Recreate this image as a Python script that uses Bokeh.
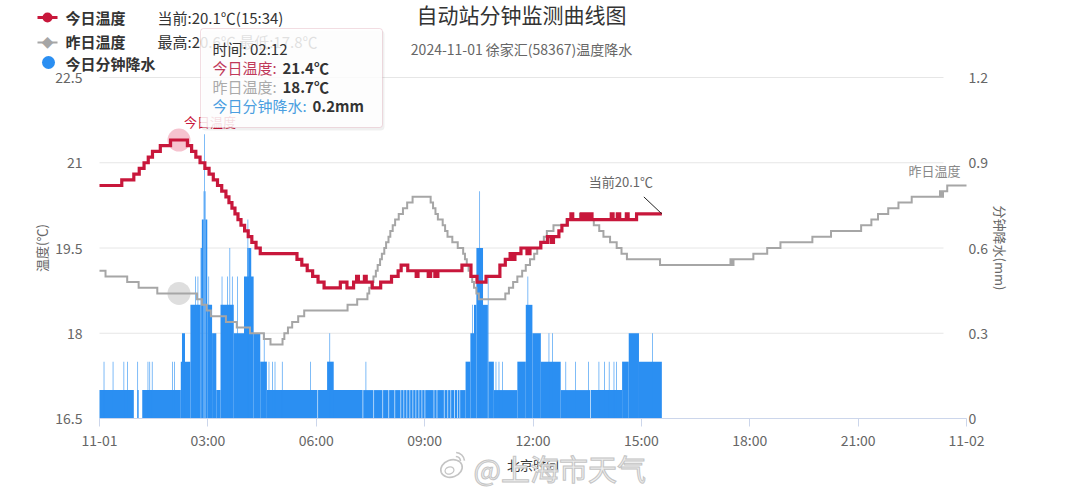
from bokeh.plotting import figure
from bokeh.models import Range1d, LinearAxis, FixedTicker, Label, BoxAnnotation
from bokeh.embed import file_html
from bokeh.resources import INLINE

# ---------------------------------------------------------------- data
# today's temperature (°C): time of each 0.1° step and the new value
today_time = ["00:00", "00:37", "00:57", "01:06", "01:14", "01:21", "01:28", "01:41", "01:58",
              "02:26", "02:33", "02:40", "02:47", "02:55", "03:02", "03:09", "03:16", "03:23",
              "03:30", "03:35", "03:40", "03:45", "03:50", "03:55", "04:01", "04:07", "04:13",
              "04:20", "04:27", "05:28", "05:36", "05:45", "05:54", "06:03", "06:13", "06:40",
              "06:51", "07:02", "07:07", "07:10", "07:20", "07:23", "07:33", "07:47", "08:05",
              "08:16", "08:21", "08:32", "08:46", "08:49", "09:06", "09:10", "09:17", "09:22",
              "10:02", "10:17", "10:27", "10:42", "11:05", "11:14", "11:22", "11:25", "11:30",
              "11:40", "11:50", "11:55", "12:13", "12:24", "12:30", "12:34", "12:43", "12:48",
              "12:57", "13:03", "13:06", "13:20", "13:23", "13:26", "13:30", "13:35", "13:38",
              "14:10", "14:13", "14:20", "14:24", "14:35", "14:38", "14:52", "15:34"]
today_temp = [20.6, 20.7, 20.8, 20.9, 21.0, 21.1, 21.2, 21.3, 21.4,
              21.3, 21.2, 21.1, 21.0, 20.9, 20.8, 20.7, 20.6, 20.5,
              20.4, 20.3, 20.2, 20.1, 20.0, 19.9, 19.8, 19.7, 19.6,
              19.5, 19.4, 19.3, 19.2, 19.1, 19.0, 18.9, 18.8, 18.9,
              18.8, 18.9, 19.0, 18.9, 19.0, 18.9, 18.8, 18.9, 19.0,
              19.1, 19.2, 19.1, 19.0, 19.1, 19.0, 19.1, 19.0, 19.1,
              19.2, 19.0, 18.9, 19.0, 19.2, 19.3, 19.4, 19.3, 19.4,
              19.5, 19.4, 19.5, 19.6, 19.7, 19.6, 19.7, 19.8, 19.9,
              20.0, 20.1, 20.0, 20.1, 20.0, 20.1, 20.0, 20.1, 20.0,
              20.1, 20.0, 20.1, 20.0, 20.1, 20.0, 20.1, 20.1]

# yesterday's temperature (°C)
yest_time = ["00:00", "00:10", "00:46", "01:05", "01:36", "02:42", "02:50", "02:58", "03:05",
             "03:30", "03:48", "04:10", "04:33", "04:44", "05:04", "05:07", "05:13", "05:20",
             "05:30", "05:40", "06:52", "07:08", "07:25", "07:28", "07:32", "07:35", "07:39",
             "07:42", "07:46", "07:49", "07:53", "07:56", "08:00", "08:03", "08:07", "08:11",
             "08:17", "08:24", "08:31", "08:40", "09:10", "09:14", "09:18", "09:22", "09:30",
             "09:34", "09:38", "09:46", "09:55", "10:04", "10:07", "10:10", "10:13", "10:16",
             "10:19", "10:22", "10:26", "10:30", "11:14", "11:20", "11:27", "11:34", "11:42",
             "11:48", "11:55", "12:02", "12:07", "12:12", "12:18", "12:23", "12:34", "12:56",
             "13:18", "13:24", "13:41", "13:50", "13:57", "14:08", "14:19", "14:27", "14:36",
             "15:31", "17:28", "17:30", "17:33", "18:06", "18:29", "18:51", "19:44", "20:15",
             "21:05", "21:22", "21:33", "21:50", "22:07", "22:29", "23:16", "23:19", "23:21",
             "23:28", "24:00"]
yest_temp = [19.1, 19.0, 18.9, 18.8, 18.7, 18.6, 18.5, 18.4, 18.3,
             18.2, 18.1, 18.0, 17.9, 17.8, 17.9, 18.0, 18.1, 18.2,
             18.3, 18.4, 18.5, 18.6, 18.7, 18.8, 18.9, 19.0, 19.1,
             19.2, 19.3, 19.4, 19.5, 19.6, 19.7, 19.8, 19.9, 20.0,
             20.1, 20.2, 20.3, 20.4, 20.3, 20.2, 20.1, 20.0, 19.9,
             19.8, 19.7, 19.6, 19.5, 19.4, 19.3, 19.2, 19.1, 19.0,
             18.9, 18.8, 18.7, 18.6, 18.7, 18.8, 18.9, 19.0, 19.1,
             19.2, 19.3, 19.4, 19.5, 19.6, 19.7, 19.8, 19.9, 20.0,
             20.1, 20.0, 19.9, 19.8, 19.7, 19.6, 19.5, 19.4, 19.3,
             19.2, 19.3, 19.2, 19.3, 19.4, 19.5, 19.6, 19.7, 19.8,
             19.9, 20.0, 20.1, 20.2, 20.3, 20.4, 20.5, 20.4, 20.5,
             20.6, 20.6]

# minute rainfall (mm): runs of equal value, [from, to) in minutes after 00:00
rain_from = [0, 63, 71, 135, 137, 151, 159, 163, 168, 170, 173, 174, 175, 176, 179, 181, 187, 194,
             201, 203, 212, 216, 220, 223, 229, 240, 245, 246, 247, 256, 267, 273, 278, 363, 378,
             382, 438, 442, 456, 471, 481, 491, 501, 506, 511, 516, 521, 526, 531, 536, 541, 556,
             561, 573, 579, 584, 590, 595, 599, 608, 616, 619, 622, 626, 631, 637, 645, 646, 655,
             694, 708, 711, 719, 733, 746, 752, 766, 816, 868, 879, 896, 918,
             7, 22, 40, 46, 63, 80, 83, 87, 121, 124, 281, 287, 291, 303, 350, 658, 663, 669,
             774, 790, 812, 829, 838, 846, 854, 858]
rain_to = [57, 65, 135, 151, 142, 168, 160, 164, 170, 173, 174, 175, 176, 179, 187, 182, 194, 201,
           223, 204, 213, 217, 221, 240, 230, 256, 246, 247, 252, 267, 278, 274, 362, 437, 389,
           383, 455, 443, 470, 480, 490, 500, 505, 510, 515, 520, 525, 530, 535, 540, 555, 560,
           572, 578, 583, 589, 594, 598, 608, 616, 622, 620, 626, 637, 632, 645, 646, 655, 694,
           708, 719, 712, 733, 766, 747, 753, 815, 868, 879, 896, 934, 919,
           8, 23, 41, 47, 64, 81, 84, 88, 122, 125, 282, 288, 292, 304, 351, 659, 664, 670,
           775, 791, 813, 830, 839, 847, 855, 859]
rain_mm = [0.1, 0.1, 0.1, 0.2, 0.3, 0.4, 0.5, 0.5, 0.6, 0.7, 0.8, 1.0, 0.8, 0.7, 0.4, 0.5, 0.3, 0.1,
           0.4, 0.5, 0.5, 0.6, 0.5, 0.3, 0.5, 0.5, 0.6, 0.7, 0.6, 0.3, 0.2, 0.3, 0.1, 0.1, 0.2,
           0.3, 0.1, 0.2, 0.1, 0.1, 0.1, 0.1, 0.1, 0.1, 0.1, 0.1, 0.1, 0.1, 0.1, 0.1, 0.1, 0.1,
           0.1, 0.1, 0.1, 0.1, 0.1, 0.1, 0.1, 0.2, 0.3, 0.4, 0.4, 0.6, 0.8, 0.4, 0.5, 0.2, 0.1,
           0.2, 0.4, 0.5, 0.3, 0.2, 0.3, 0.3, 0.1, 0.1, 0.2, 0.3, 0.2, 0.3,
           0.2, 0.2, 0.2, 0.2, 0.2, 0.2, 0.2, 0.2, 0.2, 0.2, 0.2, 0.2, 0.2, 0.2, 0.2, 0.2, 0.2, 0.2,
           0.2, 0.2, 0.2, 0.2, 0.2, 0.2, 0.2, 0.2]

# hovered sample and summary values
hover_time, hover_today, hover_yest, hover_rain = "02:12", 21.4, 18.7, 0.2
now_time, now_temp = "15:34", 20.1
yest_high, yest_low = 20.6, 17.8

x_ticks = [0, 3, 6, 9, 12, 15, 18, 21, 24]
x_tick_labels = ["11-01", "03:00", "06:00", "09:00", "12:00", "15:00", "18:00", "21:00", "11-02"]
t_ticks = [16.5, 18, 19.5, 21, 22.5]
t_tick_labels = ["16.5", "18", "19.5", "21", "22.5"]
r_ticks = [0, 0.3, 0.6, 0.9, 1.2]
r_tick_labels = ["0", "0.3", "0.6", "0.9", "1.2"]

# ---------------------------------------------------------------- style
FONT = "Noto Sans CJK SC"
RED = "#c8173b"
GREY = "#a6a6a6"
BLUE = "#2b8ff2"
MARK = "#c4c4c4"
W, H = 1080, 492
FL, FR, FT, FB = 99, 966, 77, 418        # data area edges in pixels
T_LO, T_HI = t_ticks[0], t_ticks[-1]
R_LO, R_HI = r_ticks[0], r_ticks[-1]


def hours(hhmm):
    h, m = hhmm.split(":")
    return int(h) + int(m) / 60


def px_x(px):
    return (px - FL) / (FR - FL) * 24


def px_y(py):
    return T_HI - (py - FT) / (FB - FT) * (T_HI - T_LO)


def px_r(py):
    return R_LO + (FB - py) / (FB - FT) * (R_HI - R_LO)


# the frame covers the whole canvas so that the header, legend and tooltip
# can sit anywhere; the axes are pinned to the edges of the data area
p = figure(width=W, height=H, output_backend="svg", toolbar_location=None,
           x_range=Range1d(px_x(0), px_x(W)), y_range=Range1d(px_y(H), px_y(0)),
           min_border=0)
p.extra_y_ranges = {"rain": Range1d(px_r(H), px_r(0))}
p.outline_line_color = None
p.xgrid.visible = False
p.ygrid.visible = False
p.background_fill_color = "white"
p.border_fill_color = "white"

# horizontal grid lines, stopping short of the right-hand labels
p.segment(x0=[0] * len(t_ticks), x1=[px_x(943)] * len(t_ticks), y0=t_ticks, y1=t_ticks,
          line_color="#e6e6e6", line_width=1, level="underlay")

# bottom axis
xa = p.xaxis[0]
xa.fixed_location = T_LO
xa.bounds = (0, 24)
xa.ticker = FixedTicker(ticks=x_ticks)
xa.major_label_overrides = dict(zip(x_ticks, x_tick_labels))
xa.axis_line_color = "#ccd6eb"
xa.major_tick_line_color = "#ccd6eb"
xa.major_tick_out = 8
xa.major_tick_in = 0
xa.minor_tick_line_color = None
xa.major_label_standoff = 3
xa.major_label_text_font = FONT
xa.major_label_text_font_size = "14px"
xa.major_label_text_color = "#666666"
xa.axis_label = "北京时间"
xa.axis_label_standoff = 2
xa.axis_label_text_font = FONT
xa.axis_label_text_font_size = "13px"
xa.axis_label_text_font_style = "normal"
xa.axis_label_text_color = "#333333"

# left temperature axis
ya = p.yaxis[0]
ya.fixed_location = 0
ya.bounds = (T_LO, T_HI)
ya.ticker = FixedTicker(ticks=t_ticks)
ya.major_label_overrides = dict(zip(t_ticks, t_tick_labels))
ya.axis_line_color = None
ya.major_tick_line_color = None
ya.minor_tick_line_color = None
ya.major_label_standoff = 11
ya.major_label_text_font = FONT
ya.major_label_text_font_size = "14px"
ya.major_label_text_color = "#666666"
ya.axis_label = "温度(℃)"
ya.axis_label_standoff = 1
ya.axis_label_text_font = FONT
ya.axis_label_text_font_size = "13px"
ya.axis_label_text_font_style = "normal"
ya.axis_label_text_color = "#666666"

# right rainfall axis
ra = LinearAxis(y_range_name="rain", fixed_location=24, bounds=(R_LO, R_HI),
                ticker=FixedTicker(ticks=r_ticks),
                major_label_overrides=dict(zip(r_ticks, r_tick_labels)),
                axis_line_color=None, major_tick_line_color=None, minor_tick_line_color=None,
                major_label_standoff=-4, major_label_text_font=FONT,
                major_label_text_font_size="14px", major_label_text_color="#666666",
                axis_label="分钟降水(mm)", axis_label_standoff=0, axis_label_text_font=FONT,
                axis_label_text_font_size="13px", axis_label_text_font_style="normal",
                axis_label_text_color="#666666")
p.add_layout(ra, "right")

# minute rainfall columns
p.quad(left=[m / 60 for m in rain_from], right=[m / 60 for m in rain_to],
       bottom=[0] * len(rain_mm), top=rain_mm, y_range_name="rain",
       fill_color=BLUE, line_color=None)

# hover halos
hx = hours(hover_time)
p.scatter([hx], [hover_today], size=23, marker="circle", fill_color="#f2a9ba",
          fill_alpha=0.7, line_color=None)
p.scatter([hx], [hover_yest], size=23, marker="circle", fill_color="#d0d0d0",
          fill_alpha=0.7, line_color=None)

# temperature lines
p.step([hours(t) for t in yest_time], yest_temp, mode="after",
       line_color=GREY, line_width=2, line_join="miter")
p.step([hours(t) for t in today_time], today_temp, mode="after",
       line_color=RED, line_width=3.2, line_join="miter")


def txt(text, x, y, size, color, bold=False, align="left", **kw):
    lab = Label(x=x, y=y, text=text, text_font=FONT, text_font_size=f"{size}px",
                text_color=color, text_font_style="bold" if bold else "normal",
                text_align=align, text_baseline="middle", **kw)
    p.add_layout(lab)
    return lab


# point labels
txt("今日温度", hx, hover_today, 13, RED, x_offset=5, y_offset=19)
nx = hours(now_time)
txt(f"当前{now_temp}℃", nx, now_temp, 13, "#666666", align="center", x_offset=-41, y_offset=32)
p.segment(x0=[nx - 18 / (FR - FL) * 24], y0=[now_temp + 17 / (FB - FT) * (T_HI - T_LO)],
          x1=[nx], y1=[now_temp], line_color="#222222", line_width=1)
txt("昨日温度", hours(yest_time[-1]), yest_temp[-1], 13, "#888888", align="right",
    x_offset=-6, y_offset=15)

# titles
txt("自动站分钟监测曲线图", px_x(521), px_y(13), 21, "#333333", align="center")
txt("2024-11-01 徐家汇(58367)温度降水", px_x(521), px_y(48), 14, "#666666", align="center")


# legend keys
def key_box(l, r, t, b, color, radius=0):
    p.add_layout(BoxAnnotation(left=px_x(l), right=px_x(r), top=px_y(t), bottom=px_y(b),
                               fill_color=color, fill_alpha=1, line_color=None,
                               border_radius=radius))


key_box(37, 57, 15.5, 18.5, RED)
key_box(42, 52, 12, 22, RED, 5)
key_box(37, 57, 41, 43, GREY)
txt("◆", px_x(47), px_y(42), 12, GREY, align="center")
key_box(41.5, 54.5, 55.5, 68.5, BLUE, 7)

txt("今日温度", px_x(65), px_y(17), 15, "#333333", bold=True)
txt(f"当前:{now_temp}℃({now_time})", px_x(157), px_y(17), 15, "#333333")
txt("昨日温度", px_x(65), px_y(41), 15, "#333333", bold=True)
txt(f"最高:{yest_high}℃ 最低:{yest_low}℃", px_x(157), px_y(41), 15, "#333333")
txt("今日分钟降水", px_x(65), px_y(63), 15, "#333333", bold=True)

# tooltip
p.add_layout(BoxAnnotation(left=px_x(201), right=px_x(384), top=px_y(30), bottom=px_y(130),
                           fill_color="black", fill_alpha=0.06, line_color=None,
                           border_radius=4))
p.add_layout(BoxAnnotation(left=px_x(200), right=px_x(382), top=px_y(28), bottom=px_y(127),
                           fill_color="white", fill_alpha=0.85, line_color="#d3909f",
                           line_width=1, border_radius=3))
txt(f"时间: {hover_time}", px_x(212), px_y(48), 15, "#333333")
txt("今日温度:", px_x(212), px_y(67), 15, "#c0395a")
txt(f"{hover_today}℃", px_x(282), px_y(67), 15, "#333333", bold=True)
txt("昨日温度:", px_x(212), px_y(86), 15, "#aaaaaa")
txt(f"{hover_yest}℃", px_x(282), px_y(86), 15, "#333333", bold=True)
txt("今日分钟降水:", px_x(212), px_y(105), 15, "#4a9ee0")
txt(f"{hover_rain}mm", px_x(312), px_y(105), 15, "#333333", bold=True)

# watermark: weibo-style logo and account name
p.ellipse(x=[px_x(451)], y=[px_y(468)], width=22, height=17, angle=0.35,
          width_units="screen", height_units="screen",
          fill_color="white", fill_alpha=0.6, line_color=MARK, line_width=1.6)
p.ellipse(x=[px_x(449)], y=[px_y(470)], width=9, height=7, angle=0.3,
          width_units="screen", height_units="screen",
          fill_color=None, line_color=MARK, line_width=1.3)
p.arc(x=[px_x(455)] * 2, y=[px_y(461)] * 2, radius=[5, 9], radius_units="screen",
      start_angle=0.1, end_angle=1.5, line_color=MARK, line_width=1.6)
txt("@上海市天气", px_x(473), px_y(467), 29, "#efefef",
    text_outline_color=MARK)

open("out.html", "w").write(file_html(p, INLINE))
